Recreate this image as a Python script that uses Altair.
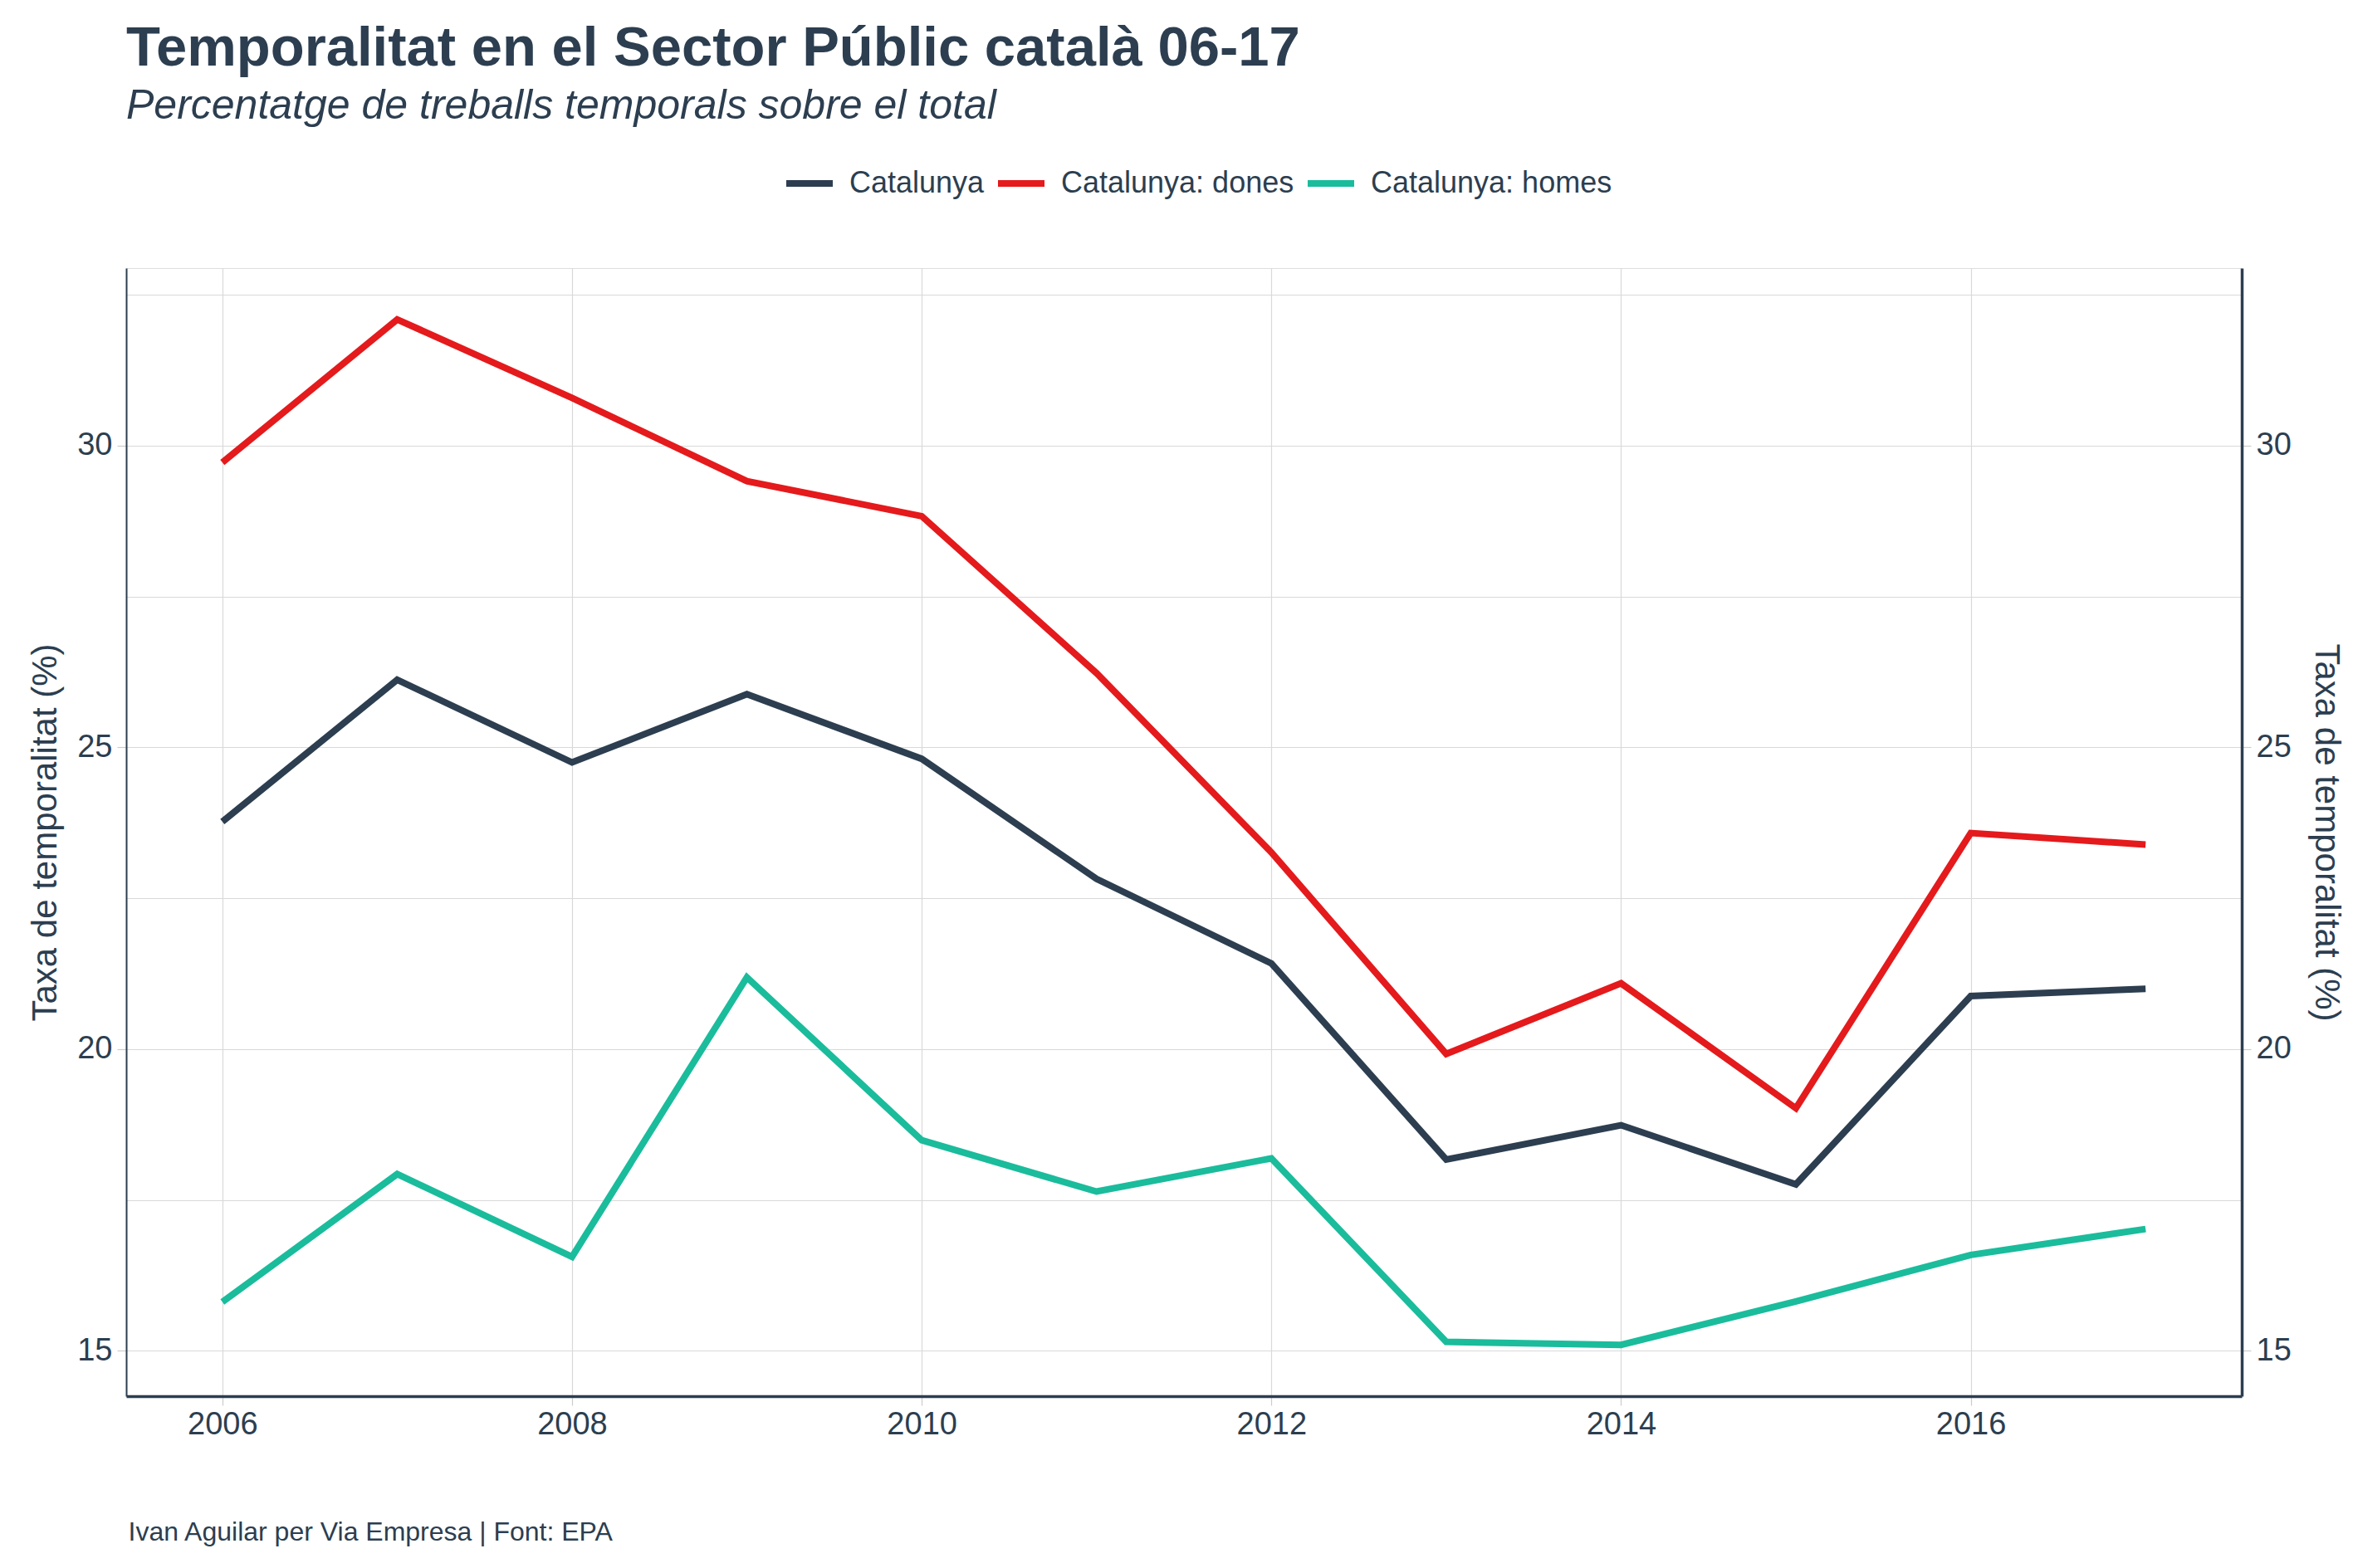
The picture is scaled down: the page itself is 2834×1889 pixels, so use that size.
import altair as alt
import pandas as pd

years = list(range(2006, 2018))
catalunya = [23.77, 26.12, 24.75, 25.88, 24.81, 22.82, 21.42, 18.17, 18.74, 17.76, 20.88, 21.00]
dones = [29.72, 32.09, 30.79, 29.41, 28.83, 26.23, 23.26, 19.92, 21.09, 19.02, 23.58, 23.39]
homes = [15.81, 17.93, 16.56, 21.19, 18.49, 17.64, 18.19, 15.15, 15.10, 15.82, 16.59, 17.02]
series_names = ["Catalunya", "Catalunya: dones", "Catalunya: homes"]
series_colors = ["#2C3E50", "#E41A1C", "#1ABC9C"]
x_ticks = [2006, 2008, 2010, 2012, 2014, 2016]
y_grid = [15, 17.5, 20, 22.5, 25, 27.5, 30, 32.5]
y_labels = [15, 20, 25, 30]

rows = []
for name, vals in zip(series_names, [catalunya, dones, homes]):
    for yr, v in zip(years, vals):
        rows.append({"year": yr, "value": v, "serie": name})
df = pd.DataFrame(rows)

FONT = "Liberation Sans"
DARK = "#2C3E50"
GRID = "#D9D9D9"
W, H = 2548, 1359
PAD_L, PAD_T = 144, 315
PAD_R = 2834 - 16 - PAD_L - W
PAD_B = 1889 - 16 - PAD_T - H

x_dom = [2005.45, 2017.55]
y_dom = [14.25, 32.94]

x_enc = alt.X(
    "year:Q",
    scale=alt.Scale(domain=x_dom, nice=False, zero=False),
    axis=alt.Axis(
        values=x_ticks, format="d", grid=True, gridColor=GRID, gridWidth=1.2,
        tickColor="#CCCCCC", tickSize=11, tickWidth=1.2,
        labelFontSize=38, labelColor=DARK, labelFont=FONT, labelPadding=4,
        domainColor=DARK, domainWidth=3.5,
        title="Ivan Aguilar per Via Empresa | Font: EPA",
        titleFont=FONT, titleFontSize=32, titleFontWeight="normal", titleColor=DARK,
        titleAnchor="start", titleAlign="left", titleBaseline="middle",
        titleX=2, titleY=163,
    ),
)

lines = alt.Chart(df).mark_line(strokeWidth=8, strokeJoin="miter", strokeCap="butt").encode(
    x=x_enc,
    y=alt.Y(
        "value:Q",
        scale=alt.Scale(domain=y_dom, nice=False, zero=False),
        axis=alt.Axis(
            orient="left", values=y_grid, grid=True, gridColor=GRID, gridWidth=1.2,
            labelExpr="datum.value % 5 === 0 ? datum.label : ''",
            tickColor={"condition": {"test": "datum.value % 5 === 0", "value": "#CCCCCC"},
                       "value": "rgba(0,0,0,0)"},
            tickSize=11, tickWidth=1.2,
            labelFontSize=38, labelColor=DARK, labelFont=FONT, labelPadding=6,
            domain=True, domainColor=DARK, domainWidth=2,
            title="Taxa de temporalitat (%)", titleFont=FONT, titleFontSize=42,
            titleFontWeight="normal", titleColor=DARK, titlePadding=16,
        ),
    ),
    color=alt.Color(
        "serie:N",
        scale=alt.Scale(domain=series_names, range=series_colors),
        legend=alt.Legend(
            orient="none", legendX=791, legendY=-134, direction="horizontal", title=None,
            symbolType="stroke", symbolSize=3136, symbolStrokeWidth=8,
            labelFontSize=36, labelColor=DARK, labelFont=FONT, labelOffset=16,
            labelLimit=1000, columnPadding=0,
        ),
    ),
    detail="serie:N",
)

right = alt.Chart(df).mark_line(strokeOpacity=0).encode(
    x=alt.X("year:Q", scale=alt.Scale(domain=x_dom, nice=False, zero=False)),
    y=alt.Y(
        "value:Q",
        scale=alt.Scale(domain=y_dom, nice=False, zero=False),
        axis=alt.Axis(
            orient="right", values=y_labels, grid=False,
            tickColor="#CCCCCC", tickSize=11, tickWidth=1.2,
            labelFontSize=38, labelColor=DARK, labelFont=FONT, labelPadding=6,
            domainColor=DARK, domainWidth=3.5,
            title="Taxa de temporalitat (%)", titleFont=FONT, titleFontSize=42,
            titleFontWeight="normal", titleColor=DARK, titlePadding=20,
        ),
    ),
    detail="serie:N",
)

chart = alt.layer(lines, right).resolve_scale(y="independent").properties(
    width=W, height=H,
    padding={"left": PAD_L, "top": PAD_T, "right": PAD_R, "bottom": PAD_B},
    autosize=alt.AutoSizeParams(type="none"),
    title=alt.Title(
        text="Temporalitat en el Sector Públic català 06-17",
        subtitle="Percentatge de treballs temporals sobre el total",
        anchor="start", frame="group", font=FONT, fontSize=67, fontWeight="bold", color=DARK,
        subtitleFont=FONT, subtitleFontSize=50, subtitleFontStyle="italic", subtitleColor=DARK,
        subtitlePadding=10, offset=35,
    ),
).configure_view(stroke=DARK, strokeWidth=2).configure(background="white")

chart.save("out.html", embed_options={"renderer": "svg", "actions": False})
